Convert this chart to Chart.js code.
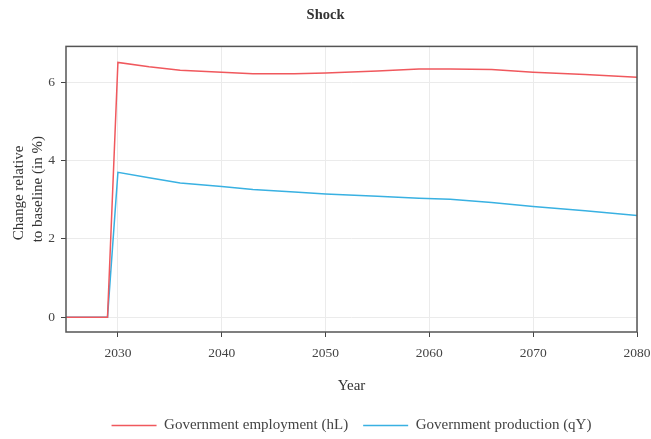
<!DOCTYPE html>
<html>
<head>
<meta charset="utf-8">
<script src="https://cdn.jsdelivr.net/npm/chart.js@4/dist/chart.umd.min.js"></script>
<style>
  html, body { margin: 0; padding: 0; background: #fff; }
  #wrap { width: 651px; height: 439px; }
</style>
</head>
<body>
<div id="wrap"><canvas id="chart"></canvas></div>
<script>
// data
const years = [2025, 2029, 2030, 2033, 2036, 2040, 2043, 2047, 2050, 2055, 2059, 2062, 2066, 2070, 2075, 2080];
const employment = [0, 0, 6.51, 6.40, 6.31, 6.26, 6.22, 6.22, 6.24, 6.29, 6.34, 6.34, 6.33, 6.26, 6.20, 6.13];
const production = [0, 0, 3.70, 3.56, 3.43, 3.34, 3.26, 3.20, 3.15, 3.09, 3.04, 3.01, 2.93, 2.83, 2.72, 2.60];
const xTicks = [2030, 2040, 2050, 2060, 2070, 2080];
const yTicks = [0, 2, 4, 6];

const serif = "'Liberation Serif', 'DejaVu Serif', serif";

// full box round the plot
const boxPlugin = {
    id: "box",
    afterDatasetsDraw(chart) {
        const a = chart.chartArea;
        const ctx = chart.ctx;
        ctx.save();
        ctx.strokeStyle = "#555";
        ctx.lineWidth = 1.5;
        ctx.strokeRect(a.left, a.top, a.right - a.left, a.bottom - a.top);
        ctx.restore();
    }
};

new Chart(document.getElementById("chart"), {
    type: "line",
    plugins: [boxPlugin],
    data: {
        datasets: [
            {
                label: "Government employment (hL)",
                data: years.map((y, i) => ({ x: y, y: employment[i] })),
                borderColor: "#f0585d",
                backgroundColor: "#f0585d",
                borderWidth: 1.5,
                pointRadius: 0,
                tension: 0,
            },
            {
                label: "Government production (qY)",
                data: years.map((y, i) => ({ x: y, y: production[i] })),
                borderColor: "#39b1e2",
                backgroundColor: "#39b1e2",
                borderWidth: 1.5,
                pointRadius: 0,
                tension: 0,
            },
        ],
    },
    options: {
        responsive: true,
        maintainAspectRatio: false,
        animation: false,
        layout: { padding: { left: 0, right: 0, top: 0, bottom: -4 } },
        plugins: {
            tooltip: { enabled: false },
            title: {
                display: true,
                text: "Shock",
                color: "#333",
                font: { family: serif, size: 14.5, weight: "bold" },
                padding: { top: 7, bottom: 22 },
            },
            legend: {
                position: "bottom",
                fullSize: false,
                labels: {
                    color: "#444",
                    font: { family: serif, size: 15 },
                    boxWidth: 45,
                    boxHeight: 0,
                    padding: 15,
                },
            },
        },
        scales: {
            x: {
                type: "linear",
                min: 2025,
                max: 2080,
                afterBuildTicks: (s) => { s.ticks = xTicks.map(v => ({ value: v })); },
                afterFit: (s) => { s.height = 71; s.paddingRight = 14; s.paddingLeft = 0; },
                ticks: {
                    color: "#444",
                    font: { family: serif, size: 13.5 },
                    padding: 8,
                    maxRotation: 0,
                    callback: (v) => String(v),
                },
                grid: { color: "#ebebeb", tickColor: "#444", tickLength: 5, lineWidth: 1 },
                border: { display: false },
                title: {
                    display: true,
                    text: "Year",
                    color: "#333",
                    font: { family: serif, size: 15 },
                    padding: { top: 2, bottom: 8 },
                },
            },
            y: {
                min: -0.38,
                max: 6.92,
                afterBuildTicks: (s) => { s.ticks = yTicks.map(v => ({ value: v })); },
                afterFit: (s) => { s.width = 66; },
                ticks: {
                    color: "#444",
                    font: { family: serif, size: 13.5 },
                    padding: 6,
                },
                grid: { color: "#ebebeb", tickColor: "#444", tickLength: 5, lineWidth: 1 },
                border: { display: false },
                title: {
                    display: true,
                    text: ["Change relative  ", "to baseline (in %)"],
                    color: "#333",
                    font: { family: serif, size: 15, lineHeight: 1.3 },
                    padding: { top: 9, bottom: 4 },
                },
            },
        },
    },
});
</script>
</body>
</html>
